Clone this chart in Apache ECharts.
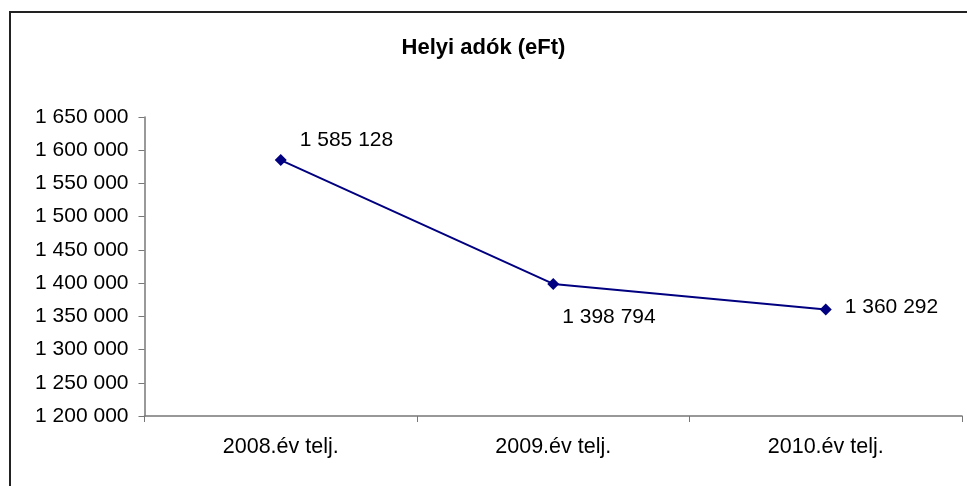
<!DOCTYPE html>
<html>
<head>
<meta charset="utf-8">
<script src="https://cdn.jsdelivr.net/npm/echarts@6/dist/echarts.min.js"></script>
<style>
html,body{margin:0;padding:0;background:#fff;}
#c{width:967px;height:486px;}
</style>
</head>
<body>
<div id="c"></div>
<script>
var titleText = 'Helyi adók (eFt)';
var categories = ['2008.év telj.', '2009.év telj.', '2010.év telj.'];
var values = [1585128, 1398794, 1360292];
var yMin = 1200000, yMax = 1650000, yStep = 50000;

function fmt(v){ return String(v).replace(/\B(?=(\d{3})+(?!\d))/g, ' '); }

var FONT = 'Liberation Sans, Arial, sans-serif';
var labelCfg = [
  {position:'right', distance:13, offset:[0,-20]},
  {position:'right', distance:3, offset:[0,33]},
  {position:'right', distance:13, offset:[0,-2]}
];

var chart = echarts.init(document.getElementById('c'), null, {renderer:'canvas'});
chart.setOption({
  animation:false,
  backgroundColor:'#fff',
  title:{text:titleText, left:'center', top:32, itemGap:0,
    textStyle:{fontFamily:FONT, fontSize:22, fontWeight:'bold', color:'#000'}},
  graphic:[{type:'rect', shape:{x:10, y:12, width:1000, height:600},
    style:{fill:'none', stroke:'#222', lineWidth:2}, silent:true}],
  grid:{left:144.5, right:5, top:117, bottom:70, containLabel:false},
  xAxis:{type:'category', data:categories, boundaryGap:true,
    axisLine:{lineStyle:{color:'#777', width:1.5}},
    axisTick:{show:true, length:6, lineStyle:{color:'#777'}},
    axisLabel:{margin:20, color:'#000', fontFamily:FONT, fontSize:21.5},
    splitLine:{show:false}},
  yAxis:{type:'value', min:yMin, max:yMax, interval:yStep,
    axisLine:{show:true, lineStyle:{color:'#777', width:1.5}},
    axisTick:{show:true, length:6, lineStyle:{color:'#777'}},
    axisLabel:{margin:16, color:'#000', fontFamily:FONT, fontSize:21, formatter:fmt},
    splitLine:{show:false}},
  series:[{type:'line', data:values.map(function(v,i){
      return {value:v, label:labelCfg[i]};
    }),
    symbol:'diamond', symbolSize:12,
    lineStyle:{color:'#000080', width:2},
    itemStyle:{color:'#000080'},
    label:{show:true, color:'#000', fontFamily:FONT, fontSize:21,
      formatter:function(p){return fmt(p.value);}}
  }]
});
</script>
</body>
</html>
